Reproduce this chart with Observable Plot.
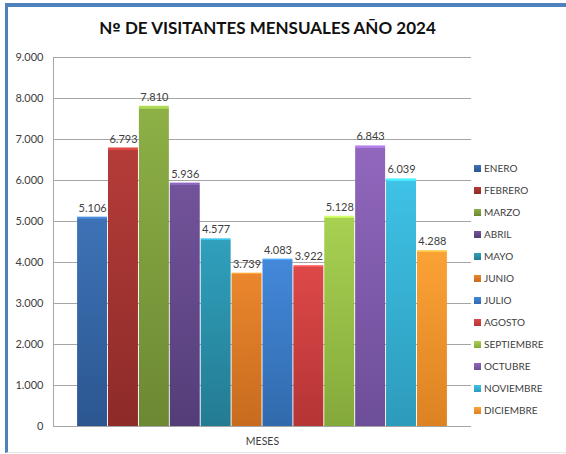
<!DOCTYPE html>
<html>
<head>
<meta charset="utf-8">
<script src="https://cdn.jsdelivr.net/npm/d3@7"></script>
<script src="https://cdn.jsdelivr.net/npm/@observablehq/plot@0.6"></script>
<style>
  html, body { margin: 0; padding: 0; background: #fff; }
  #page { position: relative; width: 566px; height: 454px; overflow: hidden; font-family: Lato, "Open Sans", sans-serif; }
  #frame { position: absolute; left: 5px; top: 3px; width: 561px; height: 450px; border-left: 3px solid #4f81bd; border-top: 4px solid #4f81bd; border-bottom: 1px solid #e8e8e8; box-sizing: border-box; }
  #title { position: absolute; left: 0; width: 535px; top: 17px; text-align: center; font-weight: 700; font-size: 17px; color: #111; white-space: nowrap; }
  #title .ord { font-family: "DejaVu Sans", sans-serif; font-size: 15px; }
  #chart { position: absolute; left: 0; top: 0; }
  #legend { position: absolute; left: 474px; top: 157px; font-size: 10px; color: #404040; }
  .row { height: 22px; display: flex; align-items: center; }
  .sw { width: 7px; height: 7px; margin-right: 3px; }
</style>
</head>
<body>
<div id="page">
  <div id="frame"></div>
  <div id="chart"></div>
  <div id="title">N<span class="ord">º</span> DE VISITANTES MENSUALES AÑO 2024</div>
  <div id="legend"></div>
</div>
<script>
const meses = ["ENERO","FEBRERO","MARZO","ABRIL","MAYO","JUNIO","JULIO","AGOSTO","SEPTIEMBRE","OCTUBRE","NOVIEMBRE","DICIEMBRE"];
const visitantes = [5106, 6793, 7810, 5936, 4577, 3739, 4083, 3922, 5128, 6843, 6039, 4288];
const yTicks = [0, 1000, 2000, 3000, 4000, 5000, 6000, 7000, 8000, 9000];
const coloresClaros = ["#3d73b6","#b53c38","#8db046","#73539b","#30a0bc","#ea862d","#4388da","#dd4848","#a8d152","#9067bd","#3ec2e6","#fba236"];
const coloresOscuros = ["#2b5690","#8c2b29","#6c8833","#533d78","#237b92","#c76b1e","#316aac","#b53434","#84a93b","#6d4e98","#2d9bbb","#dc8222"];
const ejeX = "MESES";

const data = meses.map((m, i) => ({mes: m, valor: visitantes[i]}));
const loc = d3.formatLocale({decimal: ",", thousands: ".", grouping: [3], currency: ["", "€"]});
const fmt = v => v === 0 ? "0" : loc.format(",d")(v);

const gradIds = meses.map((m, i) => "grad" + i);

const leftLine = (index, scales, values, dim) => {
  const g = document.createElementNS("http://www.w3.org/2000/svg", "line");
  g.setAttribute("x1", dim.marginLeft + 0.5);
  g.setAttribute("x2", dim.marginLeft + 0.5);
  g.setAttribute("y1", dim.marginTop);
  g.setAttribute("y2", dim.height - dim.marginBottom);
  g.setAttribute("stroke", "#a6a6a6");
  return g;
};

const plot = Plot.plot({
  width: 566,
  height: 454,
  marginTop: 57,
  marginBottom: 28,
  marginLeft: 53,
  marginRight: 95,
  style: {fontFamily: "Lato, 'Open Sans', sans-serif", fontSize: "11px", color: "#404040", background: "transparent"},
  x: {domain: meses, paddingInner: 0.03, paddingOuter: 0.78, round: false, axis: null},
  y: {domain: [0, 9000], ticks: yTicks, tickFormat: fmt, tickSize: 0, tickPadding: 10, label: null},
  color: {domain: meses, range: gradIds.map(id => `url(#${id})`)},
  marks: [
    Plot.ruleY(yTicks, {stroke: "#a6a6a6", strokeWidth: 1}),
    leftLine,
    Plot.barY(data, {x: "mes", y: "valor", fill: "mes"}),
    Plot.text(data, {x: "mes", y: "valor", text: d => fmt(d.valor), dy: -9, fill: "#404040", fontSize: 11}),
    Plot.text([ejeX], {frameAnchor: "bottom", dy: 18, fill: "#404040", fontSize: 10.5})
  ]
});

// gradient defs for the bevelled bars
const ns = "http://www.w3.org/2000/svg";
const defs = document.createElementNS(ns, "defs");
meses.forEach((m, i) => {
  const lg = document.createElementNS(ns, "linearGradient");
  lg.setAttribute("id", gradIds[i]);
  lg.setAttribute("x1", "0"); lg.setAttribute("y1", "0");
  lg.setAttribute("x2", "0"); lg.setAttribute("y2", "1");
  const light = d3.color(coloresClaros[i]).brighter(0.6).formatHex();
  [[0, light], [0.008, light], [0.01, coloresClaros[i]], [1, coloresOscuros[i]]].forEach(([o, c]) => {
    const s = document.createElementNS(ns, "stop");
    s.setAttribute("offset", o);
    s.setAttribute("stop-color", c);
    lg.appendChild(s);
  });
  defs.appendChild(lg);
});
plot.insertBefore(defs, plot.firstChild);
document.getElementById("chart").appendChild(plot);

const legend = document.getElementById("legend");
meses.forEach((m, i) => {
  const row = document.createElement("div");
  row.className = "row";
  const sw = document.createElement("div");
  sw.className = "sw";
  sw.style.background = `linear-gradient(${coloresClaros[i]}, ${coloresOscuros[i]})`;
  const t = document.createElement("span");
  t.textContent = m;
  row.appendChild(sw);
  row.appendChild(t);
  legend.appendChild(row);
});
</script>
</body>
</html>
